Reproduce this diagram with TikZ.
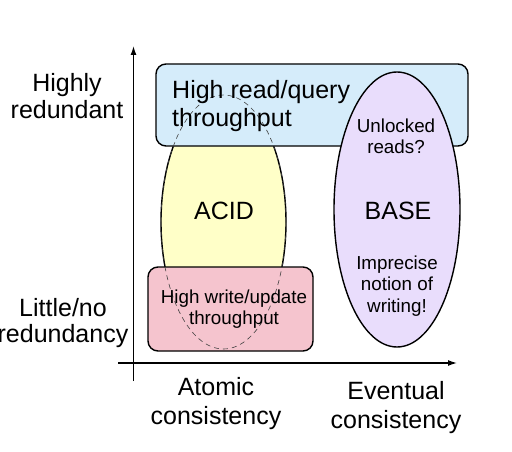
\documentclass[tikz,border=0pt]{standalone}
\usepackage{fontspec}
\setmainfont{Liberation Sans}
\usetikzlibrary{shapes.geometric,arrows.meta}
\definecolor{bluefill}{RGB}{213,236,250}
\definecolor{yellowfill}{RGB}{255,255,200}
\definecolor{pinkfill}{RGB}{245,196,206}
\definecolor{purplefill}{RGB}{233,221,252}
\tikzset{
  region/.style={draw=black, line width=1.4pt},
  roundbox/.style={region, rounded corners=10pt, inner sep=0pt},
  ovalshape/.style={region, ellipse, inner sep=0pt},
  biglabel/.style={font=\fontsize{25}{27}\selectfont, inner sep=0pt, align=center},
  smalllabel/.style={font=\fontsize{18.8}{21.3}\selectfont, inner sep=0pt, align=center},
  axisline/.style={line width=1.3pt, -{Latex[length=9pt,width=6pt]}},
  dashedoutline/.style={draw=black!75, line width=0.6pt, dash pattern=on 5pt off 4pt}
}
\begin{document}
\begin{tikzpicture}[x=1pt,y=-1pt]
\useasboundingbox (0,0) rectangle (512,452);
% axes
\coordinate (ybot) at (133.5,381);
\coordinate (ytop) at (133.5,46);
\coordinate (xleft) at (118,363);
\coordinate (xright) at (457,363);
\draw[axisline] (ybot) -- (ytop);
\draw[axisline] (xleft) -- (xright);
% shapes
\node[ovalshape, fill=yellowfill, minimum width=125pt, minimum height=254pt] (acid) at (223.5,222) {};
\node[roundbox, fill=bluefill, minimum width=312pt, minimum height=82pt] (readbox) at (312,105) {};
\node[roundbox, fill=pinkfill, minimum width=165pt, minimum height=84pt] (writebox) at (230.5,309) {};
\draw[dashedoutline] (acid.center) ellipse [x radius=62.5pt, y radius=127pt];
\node[ovalshape, fill=purplefill, minimum width=126pt, minimum height=275pt] (base) at (397,209.5) {};
% texts
\node[biglabel, anchor=west, align=left, font=\fontsize{25}{28}\selectfont] (readtext) at (172,106.5) {High read/query\\throughput};
\node[biglabel, anchor=base] (acidtext) at (224,219) {ACID};
\node[biglabel, anchor=base] (basetext) at (398,219) {BASE};
\node[smalllabel] (unlocked) at (396,136) {Unlocked\\reads?};
\node[smalllabel, font=\fontsize{18.8}{21.5}\selectfont] (imprecise) at (397,285.9) {Imprecise\\notion of\\writing!};
\node[smalllabel] (writetext) at (234,308.9) {High write/update\\throughput};
\node[biglabel] (highred) at (67,96) {Highly\\redundant};
\node[biglabel, font=\fontsize{25}{26}\selectfont] (littlered) at (63,323.5) {Little/no\\redundancy};
\node[biglabel, font=\fontsize{25}{29}\selectfont] (atomic) at (216,404) {Atomic\\consistency};
\node[biglabel, font=\fontsize{25}{29}\selectfont] (eventual) at (396,408) {Eventual\\consistency};
\end{tikzpicture}
\end{document}
